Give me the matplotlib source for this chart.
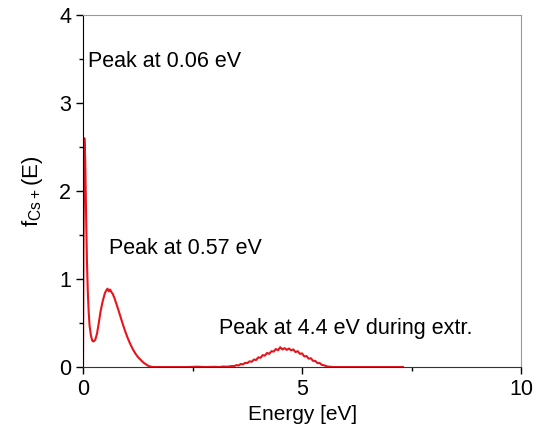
import matplotlib.pyplot as plt
from matplotlib.ticker import MultipleLocator

plt.rcParams['font.family'] = ['Liberation Sans', 'DejaVu Sans']
plt.rcParams['mathtext.fontset'] = 'custom'
plt.rcParams['mathtext.rm'] = 'Liberation Sans'

# energy distribution
energy = [0.0, 0.01, 0.03, 0.05, 0.07, 0.09, 0.11, 0.13, 0.15, 0.18, 0.21, 0.24,
          0.28, 0.32, 0.36, 0.40, 0.45, 0.50, 0.53, 0.56, 0.59, 0.62, 0.65, 0.68,
          0.72, 0.76, 0.80, 0.85, 0.90, 0.96, 1.02, 1.08, 1.14, 1.20, 1.26, 1.32,
          1.38, 1.44, 1.50, 1.60, 2.40, 2.60, 2.80, 3.00, 3.10, 3.20, 3.30, 3.40,
          3.45, 3.50, 3.55, 3.60, 3.65, 3.70, 3.75, 3.80, 3.85, 3.90, 3.95, 4.00,
          4.05, 4.10, 4.15, 4.20, 4.25, 4.30, 4.35, 4.40, 4.45, 4.50, 4.55, 4.60,
          4.65, 4.70, 4.75, 4.80, 4.85, 4.90, 4.95, 5.00, 5.05, 5.10, 5.15, 5.20,
          5.25, 5.30, 5.35, 5.40, 5.45, 5.50, 5.55, 5.60, 5.70, 6.50, 7.30]
f_cs = [0.0, 1.3, 2.6, 2.35, 1.75, 1.2, 0.85, 0.62, 0.47, 0.36, 0.30, 0.29,
        0.31, 0.38, 0.50, 0.63, 0.75, 0.84, 0.87, 0.89, 0.86, 0.88, 0.85, 0.83,
        0.78, 0.72, 0.66, 0.58, 0.50, 0.41, 0.33, 0.26, 0.20, 0.15, 0.11, 0.08,
        0.05, 0.03, 0.01, 0.0, 0.0, 0.004, 0.0, 0.003, 0.0, 0.006, 0.004, 0.012,
        0.010, 0.022, 0.018, 0.035, 0.030, 0.048, 0.045, 0.065, 0.060, 0.085,
        0.080, 0.11, 0.105, 0.135, 0.13, 0.16, 0.15, 0.18, 0.175, 0.205, 0.19,
        0.225, 0.20, 0.215, 0.195, 0.21, 0.19, 0.20, 0.17, 0.18, 0.15, 0.155,
        0.12, 0.125, 0.095, 0.10, 0.07, 0.07, 0.045, 0.045, 0.025, 0.02, 0.01,
        0.005, 0.0, 0.0, 0.0]

labels = ["Peak at 0.06 eV", "Peak at 0.57 eV", "Peak at 4.4 eV during extr."]
label_x = [0.11, 0.6, 3.1]
label_y = [3.47, 1.35, 0.44]

fig = plt.figure(figsize=(5.39, 4.38), dpi=100)
ax = fig.add_axes([0.154, 0.162, 0.813, 0.804])

ax.plot(energy, f_cs, color='#e8141c', lw=1.5)

for t, x, y in zip(labels, label_x, label_y):
    ax.text(x, y, t, fontsize=15.5, va='center', ha='left')

ax.set_xlim(0, 10)
ax.set_ylim(0, 4)
ax.xaxis.set_major_locator(MultipleLocator(5))
ax.xaxis.set_minor_locator(MultipleLocator(2.5))
ax.yaxis.set_major_locator(MultipleLocator(1))
ax.yaxis.set_minor_locator(MultipleLocator(0.5))
ax.tick_params(which='major', direction='out', length=5, width=1, labelsize=15.5)
ax.tick_params(which='minor', direction='out', length=3, width=1)

for s in ['top', 'right']:
    ax.spines[s].set_color('#999999')
ax.spines['left'].set_color('black')
ax.spines['bottom'].set_color('#333333')

ax.set_xlabel('Energy [eV]', fontsize=15, labelpad=4)
ax.set_ylabel(r'f$_{\mathrm{Cs+}}$(E)', fontsize=16, labelpad=10)

fig.savefig('out.png', dpi=100)
